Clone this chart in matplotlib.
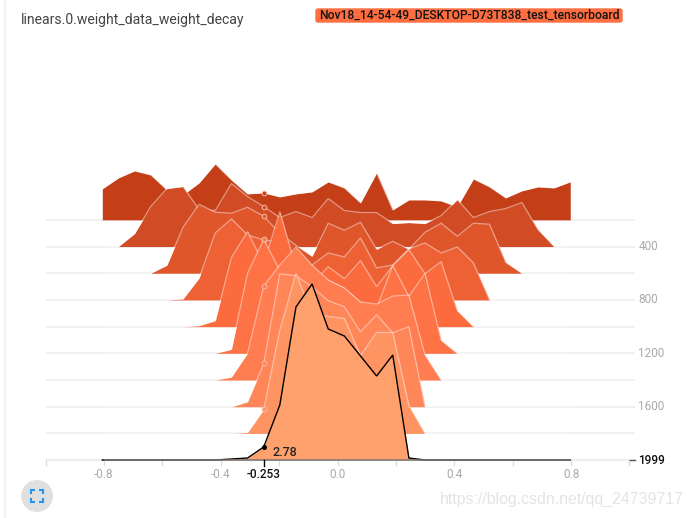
import numpy as np
import matplotlib
matplotlib.use("Agg")
import matplotlib.pyplot as plt
from matplotlib.patches import Circle, FancyBboxPatch

plt.rcParams["font.family"] = ["Roboto", "DejaVu Sans"]

title = "linears.0.weight_data_weight_decay"
run_name = "Nov18_14-54-49_DESKTOP-D73T838_test_tensorboard"
watermark = "https://blog.csdn.net/qq_24739717"

# histogram steps, one row per step
steps = [200, 400, 600, 800, 1000, 1200, 1400, 1600, 1800, 1999]
step_ticks = [400, 800, 1200, 1600]
x_ticks = [-0.8, -0.4, 0.0, 0.4, 0.8]
hover_x = -0.253
hover_value = 2.78

# bin heights (13 units = 2.78 density)
row_200 = [31, 42, 49, 45, 30, 25, 37, 56, 40, 26, 27, 23, 26, 28, 38, 32, 17, 47, 10, 20, 20, 19, 13, 41, 33, 22, 29, 33, 32, 38]
row_400 = [0, 0, 13, 40, 58, 60, 37, 36, 63, 50, 40, 29, 35, 29, 48, 36, 34, 34, 23, 24, 23, 31, 47, 29, 35, 38, 44, 17, 0, 0]
row_600 = [0, 0, 0, 0, 8, 46, 69, 61, 60, 66, 57, 40, 28, 17, 50, 43, 51, 24, 32, 24, 41, 50, 37, 50, 49, 11, 0, 0, 0, 0]
row_800 = [0, 0, 0, 0, 0, 1, 22, 67, 81, 65, 60, 58, 40, 35, 47, 43, 62, 32, 35, 51, 57, 47, 53, 37, 0, 0, 0, 0, 0, 0]
row_1000 = [0, 0, 0, 0, 0, 0, 1, 6, 69, 95, 63, 115, 59, 43, 60, 48, 66, 40, 61, 77, 53, 65, 16, 0, 0, 0, 0, 0, 0, 0]
row_1200 = [0, 0, 0, 0, 0, 0, 0, 0, 4, 80, 114, 83, 70, 60, 73, 65, 51, 45, 88, 57, 80, 13, 0, 0, 0, 0, 0, 0, 0, 0]
row_1400 = [0, 0, 0, 0, 0, 0, 0, 0, 3, 27, 94, 115, 133, 115, 100, 92, 78, 76, 84, 85, 25, 0, 0, 0, 0, 0, 0, 0, 0, 0]
row_1600 = [0, 0, 0, 0, 0, 0, 0, 0, 0, 5, 43, 133, 131, 120, 106, 100, 75, 92, 74, 80, 0, 0, 0, 0, 0, 0, 0, 0, 0, 0]
row_1800 = [0, 0, 0, 0, 0, 0, 0, 0, 0, 1, 24, 103, 160, 120, 117, 115, 78, 101, 101, 28, 0, 0, 0, 0, 0, 0, 0, 0, 0, 0]
row_1999 = [0, 0, 0, 0, 0, 0, 0, 0, 1, 2, 13, 55, 153, 176, 131, 124, 104, 84, 105, 2, 0, 0, 0, 0, 0, 0, 0, 0, 0, 0]
rows = [row_200, row_400, row_600, row_800, row_1000, row_1200, row_1400, row_1600, row_1800, row_1999]

colors = ["#c43e17", "#d14b24", "#e0562b", "#ee6135", "#fb6b3e",
          "#fd7345", "#ff7d50", "#ff8658", "#ff9463", "#ffa16d"]

bins = np.linspace(-0.806, 0.797, 30)

W, H = 694, 518
px_per_x = 291.9
px_per_step = 0.1335

fig = plt.figure(figsize=(W / 100, H / 100), dpi=100)
ax = fig.add_axes([0, 0, 1, 1])
ax.set_xlim((0 - 337.6) / px_per_x, (W - 337.6) / px_per_x)
ax.set_ylim(1999 + (H - 460) / px_per_step, 1999 - 460 / px_per_step)
ax.axis("off")

dx = 1 / px_per_x
dy = 1 / px_per_step

# baselines
for s in steps:
    ax.plot([-1.0, 1.02], [s, s], color="#eeeeee", lw=1.2, zorder=1, solid_capstyle="butt")

# rows, back to front
for i, (s, vals) in enumerate(zip(steps, rows)):
    top = s - np.array(vals) * dy
    z = 2 + i
    ax.fill_between(bins, s, top, color=colors[i], lw=0, zorder=z)
    is_last = s == steps[-1]
    ax.plot(bins, top, color="black" if is_last else "#ffffff", alpha=1 if is_last else 0.45,
            lw=1.0 if is_last else 0.9, zorder=z, solid_joinstyle="miter")
    mark_y = np.interp(hover_x, bins, top)
    if is_last:
        ax.plot([hover_x], [mark_y], "o", ms=2.6, color="black", zorder=z)
    else:
        ax.plot([hover_x], [mark_y], "o", ms=3.4, mfc=colors[i], mec="#ffb9a0", mew=0.7, zorder=z)

# x axis
ax.plot([-1.0, 1.0], [1999, 1999], color="#eeeeee", lw=1.6, zorder=1, solid_capstyle="butt")
ax.plot([-0.8, 0.8], [1999, 1999], color="#777777", lw=1.1, zorder=12, solid_capstyle="butt")
for t in np.arange(-1.0, 1.01, 0.2):
    ax.plot([t, t], [1999, 1999 + 5 * dy], color="#dddddd", lw=1, zorder=1)
for t in x_ticks:
    ax.text(t, 1999 + 14.5 * dy, f"{t:.1f}", ha="center", va="center", fontsize=8.5, color="#aaaaaa")

# step axis
for s in step_ticks:
    ax.text(1.03, s, str(s), ha="left", va="center", fontsize=8.5, color="#aaaaaa")
ax.plot([1.0, 1.02], [1999, 1999], color="#555555", lw=1, zorder=12)
ax.text(1.03, 1999, "1999", ha="left", va="center", fontsize=8.5, color="#111111", fontweight="medium")

# hover readout
ax.plot([hover_x, hover_x], [1999, 1999 + 6 * dy], color="black", lw=1, zorder=13)
ax.text(hover_x, 1999 + 14.5 * dy, f"{hover_x}", ha="center", va="center", fontsize=8.5, color="#111111",
        fontweight="medium", zorder=13)
ax.text(hover_x + 9 * dx, 1999 - 7 * dy, f"{hover_value}", ha="left", va="center", fontsize=9,
        color="#222222", fontweight="medium", zorder=13)

# page furniture, in pixels
page = fig.add_axes([0, 0, 1, 1], zorder=20)
page.set_xlim(0, W)
page.set_ylim(H, 0)
page.axis("off")
page.patch.set_alpha(0)
page.plot([5, 5], [0, H], color="#f2f2f2", lw=1.5)
page.text(21, 20, title, fontsize=10.1, color="#444444", va="center", ha="left")
page.add_patch(FancyBboxPatch((316, 9), 306, 13, boxstyle="round,pad=0,rounding_size=2", fc="#ff6e40", ec="#ff6e40", lw=1))
page.text(469, 15.5, run_name, fontsize=8.7, color="#111111", va="center", ha="center", fontweight="medium")
page.add_patch(Circle((37, 496), 16, fc="#e0e0e0", ec="none"))
for cx, cy, sx, sy in [(31, 490, 1, 1), (43, 490, -1, 1), (31, 502, 1, -1), (43, 502, -1, -1)]:
    page.plot([cx + 4 * sx, cx, cx], [cy, cy, cy + 4 * sy], color="#2196f3", lw=1.5, solid_capstyle="butt", solid_joinstyle="miter")
page.text(684, 499, watermark, fontsize=11.4, color="#e4e4e4", va="center", ha="right", family=["Liberation Sans", "DejaVu Sans"])

fig.savefig("out.png", dpi=100)
